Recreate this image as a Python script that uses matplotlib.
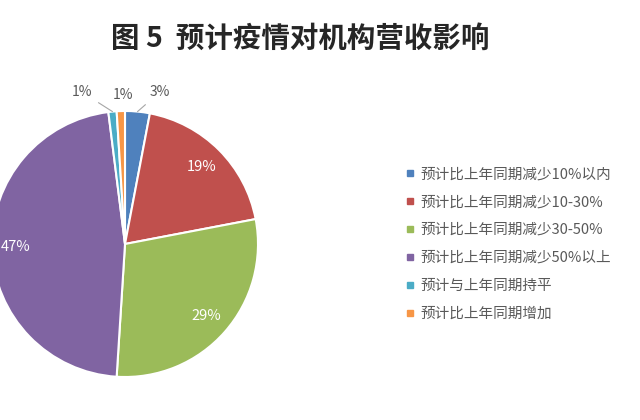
import numpy as np
import matplotlib
matplotlib.use("Agg")
import matplotlib.pyplot as plt
from matplotlib.lines import Line2D

plt.rcParams['font.family'] = ['Noto Sans CJK SC', 'DejaVu Sans']

title = "图 5  预计疫情对机构营收影响"
categories = ["预计比上年同期减少10%以内", "预计比上年同期减少10-30%", "预计比上年同期减少30-50%",
              "预计比上年同期减少50%以上", "预计与上年同期持平", "预计比上年同期增加"]
values = [3, 19, 29, 47, 1, 1]
colors = ["#4F81BD", "#C0504D", "#9BBB59", "#8064A2", "#4BACC6", "#F79646"]

fig = plt.figure(figsize=(6.4, 4.2), dpi=100)
ax = fig.add_axes([0, 0, 1, 1])
ax.set_xlim(0, 640)
ax.set_ylim(0, 420)
ax.set_aspect('equal')
ax.axis('off')

cx, cy, r = 125, 420 - 244, 133
wedges, _ = ax.pie(values, colors=colors, startangle=90, counterclock=False,
                   center=(cx, cy), radius=r,
                   wedgeprops=dict(edgecolor='white', linewidth=1.5))
ax.set_xlim(0, 640)
ax.set_ylim(0, 420)

small_offsets = {0: (16, 14), 4: (-22, 14), 5: (1.5, 11.5)}
for i, w in enumerate(wedges):
    ang = np.deg2rad((w.theta1 + w.theta2) / 2)
    lab = f"{values[i]}%"
    if values[i] >= 10:
        d = 0.82 * r
        ax.text(cx + d * np.cos(ang), cy + d * np.sin(ang), lab, ha='center', va='center',
                color='white', fontsize=10.5)
    else:
        px, py = cx + r * np.cos(ang), cy + r * np.sin(ang)
        dx, dy = small_offsets[i]
        ax.annotate(lab, xy=(px, py), xytext=(dx, dy), textcoords='offset points',
                    ha='center', va='center', color='#595959', fontsize=10,
                    arrowprops=dict(arrowstyle='-', color='#A6A6A6', lw=0.8,
                                    shrinkA=3, shrinkB=0) if i != 5 else None)

fig.text(0.469, 0.908, title, ha='center', va='center', fontsize=20.5, fontweight='bold',
         color='#262626')

handles = [Line2D([0], [0], marker='s', linestyle='none', markersize=5,
                  markerfacecolor=c, markeredgecolor=c) for c in colors]
leg = fig.legend(handles, categories, loc='center left', bbox_to_anchor=(0.614, 0.419),
                 frameon=False, fontsize=10.5, labelspacing=0.95, handlelength=0.6,
                 handletextpad=0.4, labelcolor='#595959')

fig.savefig("out.png", dpi=100)
